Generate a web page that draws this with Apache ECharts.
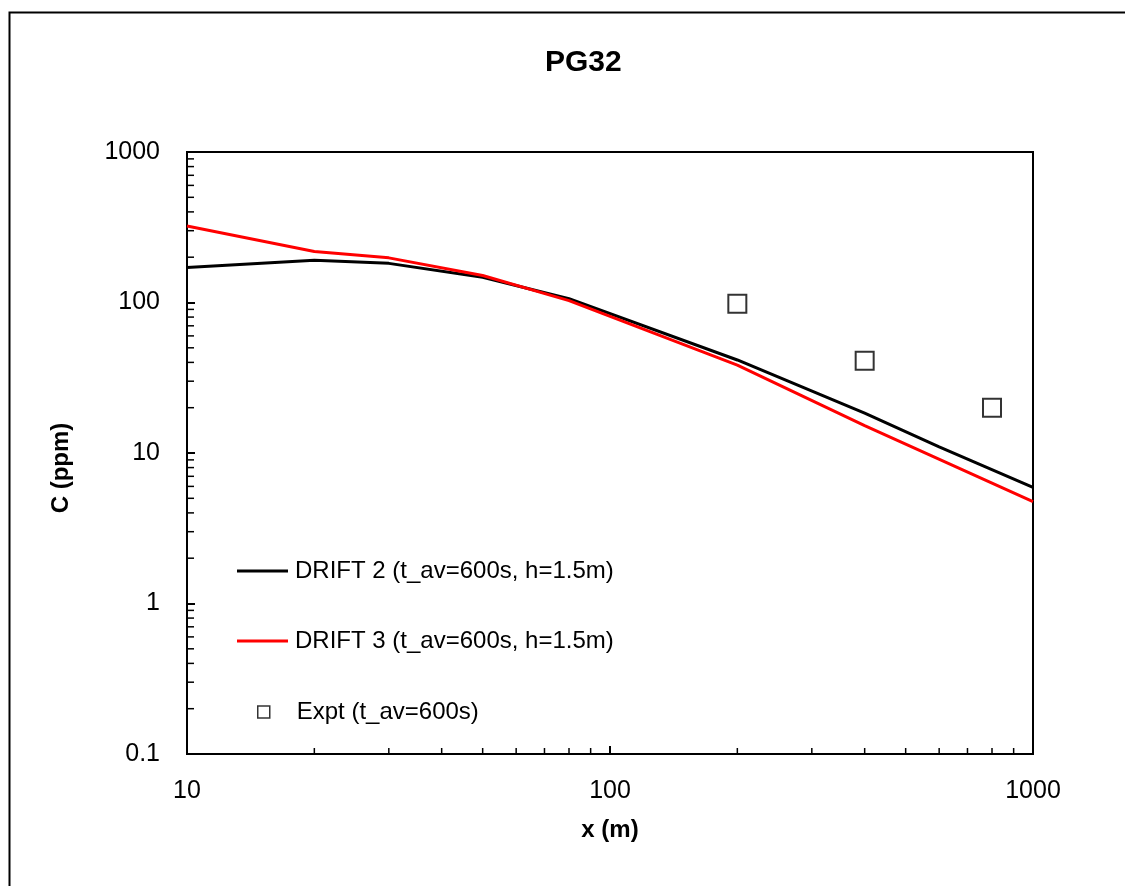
<!DOCTYPE html>
<html>
<head>
<meta charset="utf-8">
<script src="https://cdn.jsdelivr.net/npm/echarts@6/dist/echarts.min.js"></script>
<style>
html,body{margin:0;padding:0;background:#fff;}
#chart{width:1125px;height:886px;}
</style>
</head>
<body>
<div id="chart"></div>
<script>
// ---- data ----
const titleText = 'PG32';
const drift2X = [10, 20, 30, 50, 80, 200, 400, 600, 1000];
const drift2Y = [171, 191, 182, 147, 106, 41.5, 18.4, 11.0, 5.9];
const drift3X = [10, 20, 30, 50, 80, 200, 400, 1000];
const drift3Y = [322, 218, 198, 151, 103, 38.4, 15.2, 4.75];
const exptX = [200, 400, 800];
const exptY = [98, 41, 20];
const seriesNames = ['DRIFT 2 (t_av=600s, h=1.5m)', 'DRIFT 3 (t_av=600s, h=1.5m)', 'Expt (t_av=600s)'];
const xMinorTicks = [20, 30, 40, 50, 60, 70, 80, 90, 200, 300, 400, 500, 600, 700, 800, 900];
const yMinorTicks = [0.2, 0.3, 0.4, 0.5, 0.6, 0.7, 0.8, 0.9, 2, 3, 4, 5, 6, 7, 8, 9, 20, 30, 40, 50, 60, 70, 80, 90, 200, 300, 400, 500, 600, 700, 800, 900];
const xMin = 10, xMax = 1000, yMin = 0.1, yMax = 1000;

const FONT = 'Liberation Sans, Arial, sans-serif';
const zip = (a, b) => a.map((v, i) => [v, b[i]]);
const fmt = v => (v < 1 ? String(Number(v.toFixed(1))) : String(Math.round(v)));

const chart = echarts.init(document.getElementById('chart'), null, {renderer: 'canvas'});
const option = {
  backgroundColor: '#fff',
  animation: false,
  title: {
    text: titleText, left: 545, top: 48, padding: 0,
    textStyle: {fontFamily: FONT, fontWeight: 'bold', fontSize: 30, color: '#000'}
  },
  grid: {left: 187, top: 152, right: 92, bottom: 132, show: true, borderColor: '#000', borderWidth: 2, backgroundColor: 'transparent'},
  xAxis: {
    type: 'log', logBase: 10, min: xMin, max: xMax,
    name: 'x (m)', nameLocation: 'middle', nameGap: 64,
    nameTextStyle: {fontFamily: FONT, fontWeight: 'bold', fontSize: 24, color: '#000'},
    axisLine: {show: true, lineStyle: {color: '#000', width: 2}},
    axisTick: {show: true, inside: true, length: 8, lineStyle: {color: '#000', width: 2}},
    axisLabel: {fontFamily: FONT, fontSize: 25, color: '#000', margin: 25, formatter: fmt},
    splitLine: {show: false}
  },
  yAxis: {
    type: 'log', logBase: 10, min: yMin, max: yMax,
    name: 'C (ppm)', nameLocation: 'middle', nameGap: 114, nameRotate: 90,
    nameTextStyle: {fontFamily: FONT, fontWeight: 'bold', fontSize: 24, color: '#000', padding: [0, 30, 0, 0]},
    axisLine: {show: true, lineStyle: {color: '#000', width: 2}},
    axisTick: {show: true, inside: true, length: 8, lineStyle: {color: '#000', width: 2}},
    axisLabel: {fontFamily: FONT, fontSize: 25, color: '#000', margin: 27, padding: [10, 0, 0, 0], formatter: fmt},
    splitLine: {show: false}
  },
  legend: [
    {
      orient: 'vertical', left: 237, top: 557, padding: 0, itemWidth: 51, itemHeight: 3, itemGap: 42,
      icon: 'rect', selectedMode: false,
      data: [seriesNames[0], seriesNames[1]],
      textStyle: {fontFamily: FONT, fontSize: 24, color: '#000', lineHeight: 24, padding: [4, 0, 0, 2]}
    },
    {
      orient: 'vertical', left: 257, top: 698, padding: 0, itemWidth: 12, itemHeight: 12,
      icon: 'rect', selectedMode: false,
      data: [seriesNames[2]],
      itemStyle: {color: '#fff', borderColor: '#000', borderWidth: 1.5},
      textStyle: {fontFamily: FONT, fontSize: 24, color: '#000', lineHeight: 24, padding: [4, 0, 0, 22]}
    }
  ],
  graphic: [{
    type: 'rect', left: 7, top: 10, silent: true,
    shape: {x: 0, y: 0, width: 1130, height: 890},
    style: {fill: 'none', stroke: '#000', lineWidth: 2}
  }],
  series: [
    {
      name: seriesNames[0], type: 'line', data: zip(drift2X, drift2Y),
      showSymbol: false, color: '#000',
      lineStyle: {color: '#000', width: 3}, z: 3
    },
    {
      name: seriesNames[1], type: 'line', data: zip(drift3X, drift3Y),
      showSymbol: false, color: '#ff0000',
      lineStyle: {color: '#ff0000', width: 3}, z: 4
    },
    {
      name: seriesNames[2], type: 'scatter', data: zip(exptX, exptY),
      symbol: 'rect', symbolSize: 18,
      itemStyle: {color: '#fff', borderColor: '#000', borderWidth: 2}, z: 5
    },
    {
      type: 'custom', silent: true, clip: false, z: 2,
      data: xMinorTicks.map(v => [v, yMin]),
      renderItem: (params, api) => {
        const p = api.coord([api.value(0), yMin]);
        return {type: 'line', shape: {x1: p[0], y1: p[1], x2: p[0], y2: p[1] - 6}, style: {stroke: '#000', lineWidth: 1.5}};
      }
    },
    {
      type: 'custom', silent: true, clip: false, z: 2,
      data: yMinorTicks.map(v => [xMin, v]),
      renderItem: (params, api) => {
        const p = api.coord([xMin, api.value(1)]);
        return {type: 'line', shape: {x1: p[0], y1: p[1], x2: p[0] + 7, y2: p[1]}, style: {stroke: '#000', lineWidth: 1.5}};
      }
    }
  ]
};
chart.setOption(option);
</script>
</body>
</html>
